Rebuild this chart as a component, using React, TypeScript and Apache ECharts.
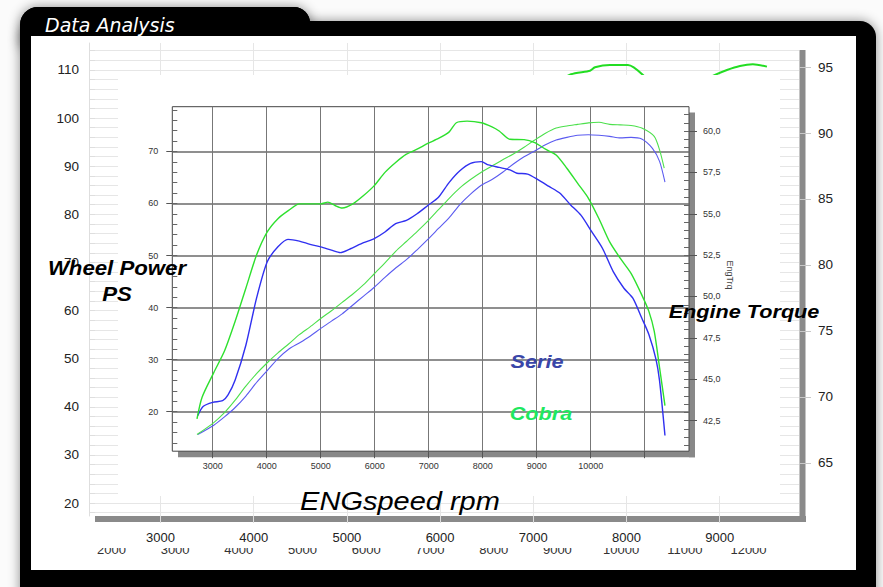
import React, { useEffect, useRef } from 'react';
import * as echarts from 'echarts';

// ---------- inner chart data (rpm / value) ----------
const cobraTorqueRpm = [2709, 2802, 3020, 3218, 3416, 3614, 3812, 4010, 4208, 4406, 4604, 4803, 5001, 5133, 5265, 5398, 5596, 5794, 5992, 6190, 6388, 6587, 6785, 6983, 7181, 7380, 7512, 7710, 7974, 8172, 8305, 8503, 8766, 8964, 9162, 9360, 9558, 9756, 9955, 10153, 10351, 10549, 10747, 10945, 11077, 11176, 11275, 11375];
const cobraTorque = [42.6, 43.9, 45.4, 46.7, 48.5, 50.5, 52.5, 53.9, 54.7, 55.2, 55.6, 55.6, 55.6, 55.7, 55.5, 55.35, 55.6, 56.1, 56.7, 57.5, 58.1, 58.6, 58.9, 59.25, 59.55, 59.95, 60.5, 60.6, 60.5, 60.25, 60.0, 59.5, 59.48, 59.3, 58.9, 58.55, 57.75, 56.85, 55.95, 54.7, 53.3, 52.3, 51.4, 50.1, 49.1, 47.9, 45.7, 43.4];

const serieTorqueRpm = [2723, 2822, 3000, 3185, 3284, 3416, 3614, 3812, 4010, 4208, 4394, 4604, 4803, 5001, 5199, 5364, 5530, 5794, 5992, 6190, 6388, 6587, 6785, 6983, 7181, 7380, 7577, 7775, 7974, 8106, 8305, 8503, 8634, 8832, 9030, 9228, 9426, 9624, 9822, 10021, 10219, 10417, 10615, 10780, 10945, 11077, 11209, 11275, 11375];
const serieTorque = [42.8, 43.35, 43.6, 43.7, 44.05, 44.95, 47.05, 49.9, 52.1, 53.0, 53.45, 53.35, 53.15, 53.0, 52.8, 52.65, 52.85, 53.25, 53.5, 53.9, 54.4, 54.6, 55.0, 55.5, 56.0, 56.9, 57.6, 58.05, 58.15, 57.95, 57.8, 57.65, 57.45, 57.4, 57.05, 56.65, 56.25, 55.55, 54.9, 53.9, 52.9, 51.5, 50.5, 49.9, 48.7, 47.7, 46.2, 44.9, 41.6];

const cobraPowerRpm = [2709, 3020, 3218, 3416, 3614, 3812, 4010, 4208, 4406, 4604, 4803, 5001, 5199, 5398, 5596, 5794, 5992, 6190, 6388, 6587, 6785, 6983, 7181, 7380, 7577, 7775, 7974, 8172, 8370, 8568, 8766, 8964, 9162, 9360, 9558, 9756, 9955, 10153, 10351, 10549, 10747, 10945, 11176, 11275, 11361];
const cobraPower = [15.6, 17.9, 19.8, 22.2, 24.9, 27.3, 29.4, 31.3, 33.0, 34.8, 36.3, 37.9, 39.4, 41.0, 42.6, 44.4, 46.5, 48.6, 50.8, 52.7, 54.6, 56.6, 58.8, 61.0, 63.0, 64.6, 66.0, 67.2, 68.4, 69.5, 70.8, 72.2, 73.5, 74.5, 74.9, 75.2, 75.5, 75.6, 75.2, 75.1, 75.0, 74.5, 72.9, 70.3, 66.8];

const seriePowerRpm = [2723, 3020, 3218, 3416, 3614, 3812, 4010, 4208, 4406, 4604, 4803, 5001, 5199, 5398, 5596, 5794, 5992, 6190, 6388, 6587, 6785, 6983, 7181, 7380, 7577, 7775, 7974, 8172, 8370, 8568, 8766, 8964, 9162, 9360, 9558, 9756, 9955, 10153, 10351, 10549, 10747, 10945, 11143, 11275, 11375];
const seriePower = [15.6, 17.4, 19.0, 20.8, 23.0, 25.6, 27.9, 30.2, 32.0, 33.2, 34.5, 36.0, 37.4, 38.8, 40.5, 42.2, 43.9, 45.8, 47.6, 49.2, 51.1, 53.1, 55.2, 57.3, 59.8, 61.8, 63.5, 64.6, 66.0, 67.6, 69.0, 70.1, 71.3, 72.2, 72.7, 73.1, 73.2, 73.1, 72.9, 72.6, 72.7, 72.4, 70.6, 68.1, 64.1];

// ---------- outer (background) chart fragments ----------
const outerTorqueRpm = [7200, 7405, 7609, 7662, 7823, 8016, 8177, 8400];
const outerTorque = [93.6, 94.45, 94.72, 94.98, 95.15, 95.15, 94.39, 92.6];
const outerPowerRpm = [8800, 8949, 9078, 9217, 9356, 9507];
const outerPower = [107.5, 108.96, 110.0, 110.83, 111.18, 110.69];

// ---------- tick labels ----------
const innerRpmLabels = [3000, 4000, 5000, 6000, 7000, 8000, 9000, 10000];
const innerRpmTicks = [3000, 4000, 5000, 6000, 7000, 8000, 9000, 10000, 11000];
const innerPowerLabels = [20, 30, 40, 50, 60, 70];
const innerTorqueLabels = [42.5, 45, 47.5, 50, 52.5, 55, 57.5, 60];
const outerRpmLabels = [3000, 4000, 5000, 6000, 7000, 8000, 9000];
const backRpmLabels = [2000, 3000, 4000, 5000, 6000, 7000, 8000, 9000, 10000, 11000, 12000];
const outerPowerLabels = [20, 30, 40, 50, 60, 70, 80, 90, 100, 110];
const outerTorqueLabels = [65, 70, 75, 80, 85, 90, 95];

const range = (a: number, b: number, s: number) => {
  const r: number[] = [];
  for (let v = a; v <= b + 1e-9; v += s) r.push(Math.round(v * 100) / 100);
  return r;
};
const innerPowerMinor = range(14, 78, 2);
const innerTorqueMinor = range(41, 61, 0.5);
const outerPowerMinor = range(18, 114, 2);

const zip = (xs: number[], ys: number[]) => xs.map((x, i) => [x, ys[i]]);
const plain = (v: number) => String(v);

const FONT = '"Liberation Sans", Arial, sans-serif';

function bigText(text: string, x: number, y: number, size: number, fill: string, weight: string, scaleX: number) {
  return {
    type: 'text',
    x,
    y,
    z: 10,
    scaleX,
    silent: true,
    style: {
      text,
      fill,
      fontSize: size,
      fontWeight: weight,
      fontStyle: 'italic',
      fontFamily: FONT,
      textAlign: 'center',
      textVerticalAlign: 'middle',
    },
  };
}

export default function App() {
  const ref = useRef<HTMLDivElement>(null);
  useEffect(() => {
    const chart = echarts.init(ref.current!, null, { renderer: 'svg' });
    const lineBase = { type: 'line', showSymbol: false, symbol: 'none', smooth: 0.25, silent: true };
    const option: any = {
      animation: false,
      backgroundColor: '#fbfbfb',
      textStyle: { fontFamily: FONT },
      grid: [
        { left: 172.3, top: 106.7, width: 516.7, height: 344.5, show: true, borderColor: '#444', borderWidth: 1, backgroundColor: 'transparent', z: 6 },
        { left: 89, top: 43, width: 710, height: 473, z: 3 },
        { left: 111.4, top: 530, width: 637.1, height: 1, z: 1 },
      ],
      xAxis: [
        {
          gridIndex: 0, type: 'value', min: 2252, max: 11820, splitNumber: 48, z: 6,
          axisLine: { show: false },
          axisTick: { show: true, customValues: innerRpmTicks, length: 7, lineStyle: { color: '#555' } },
          axisLabel: { customValues: innerRpmLabels, fontSize: 9, color: '#333', margin: 10, formatter: plain },
          splitLine: { show: true, lineStyle: { color: '#777', width: 1 } },
        },
        {
          gridIndex: 1, type: 'value', min: 2233, max: 9851, splitNumber: 38, z: 3,
          axisLine: { show: false },
          axisTick: { show: true, customValues: outerRpmLabels, length: 7, lineStyle: { color: '#dcdcdc' } },
          axisLabel: { customValues: outerRpmLabels, fontSize: 13, color: '#222', margin: 15, formatter: plain },
          splitLine: { show: true, lineStyle: { color: '#e6e6e6', width: 1 } },
        },
        {
          gridIndex: 2, type: 'value', min: 2000, max: 12000, splitNumber: 10, z: 1,
          axisLine: { show: false }, axisTick: { show: false }, splitLine: { show: false },
          axisLabel: { customValues: backRpmLabels, fontSize: 13, color: '#333', margin: 12, formatter: plain },
        },
      ],
      yAxis: [
        {
          gridIndex: 0, type: 'value', position: 'left', min: 12.4, max: 78.6, splitNumber: 7, z: 6,
          axisLine: { show: false },
          axisTick: { show: true, customValues: innerPowerLabels, length: 6, lineStyle: { color: '#555' } },
          axisLabel: { customValues: innerPowerLabels, fontSize: 9, color: '#333', margin: 14, formatter: plain },
          splitLine: { show: true, lineStyle: { color: '#6a6a6a', width: 1.5 } },
        },
        {
          gridIndex: 0, type: 'value', position: 'left', min: 12.4, max: 78.6, z: 6,
          axisLine: { show: false },
          axisTick: { show: true, inside: true, customValues: innerPowerMinor, length: 5, lineStyle: { color: '#666' } },
          axisLabel: { show: false }, splitLine: { show: false },
        },
        {
          gridIndex: 0, type: 'value', position: 'right', min: 40.65, max: 61.47, z: 6,
          axisLine: { show: false },
          axisTick: { show: true, customValues: innerTorqueLabels, length: 8, lineStyle: { color: '#555' } },
          axisLabel: {
            customValues: innerTorqueLabels, fontSize: 9, color: '#333', margin: 14,
            formatter: (v: number) => v.toFixed(1).replace('.', ','),
          },
          splitLine: { show: false },
        },
        {
          gridIndex: 0, type: 'value', position: 'right', min: 40.65, max: 61.47, z: 6,
          axisLine: { show: false },
          axisTick: { show: true, inside: true, customValues: innerTorqueMinor, length: 5, lineStyle: { color: '#666' } },
          axisLabel: { show: false }, splitLine: { show: false },
        },
        {
          gridIndex: 1, type: 'value', position: 'left', min: 17.3, max: 115.6, splitNumber: 10, z: 3,
          axisLine: { show: true, lineStyle: { color: '#dedede' } },
          axisTick: { show: true, inside: true, customValues: outerPowerMinor, length: 6, lineStyle: { color: '#dedede' } },
          axisLabel: { customValues: outerPowerLabels, fontSize: 13.5, color: '#222', margin: 10, formatter: plain },
          splitLine: { show: true, lineStyle: { color: '#e6e6e6', width: 1 } },
        },
        {
          gridIndex: 1, type: 'value', position: 'right', min: 60.98, max: 96.82, z: 3,
          axisLine: { show: false },
          axisTick: { show: true, customValues: outerTorqueLabels, length: 12, lineStyle: { color: '#c8c8c8' } },
          axisLabel: { customValues: outerTorqueLabels, fontSize: 13.5, color: '#222', margin: 19, formatter: plain },
          splitLine: { show: false },
        },
        { gridIndex: 2, type: 'value', show: false, min: 0, max: 1 },
      ],
      series: [
        { ...lineBase, name: 'outerTorque', xAxisIndex: 1, yAxisIndex: 5, z: 4, data: zip(outerTorqueRpm, outerTorque), lineStyle: { color: '#22dd22', width: 2 } },
        { ...lineBase, name: 'outerPower', xAxisIndex: 1, yAxisIndex: 4, z: 4, data: zip(outerPowerRpm, outerPower), lineStyle: { color: '#22dd22', width: 2 } },
        { ...lineBase, name: 'Serie PS', xAxisIndex: 0, yAxisIndex: 0, z: 7, data: zip(seriePowerRpm, seriePower), lineStyle: { color: '#5b5bf0', width: 1.1 } },
        { ...lineBase, name: 'Cobra PS', xAxisIndex: 0, yAxisIndex: 0, z: 7, data: zip(cobraPowerRpm, cobraPower), lineStyle: { color: '#4ce04c', width: 1.1 } },
        { ...lineBase, name: 'Serie EngTrq', xAxisIndex: 0, yAxisIndex: 2, z: 7, data: zip(serieTorqueRpm, serieTorque), lineStyle: { color: '#3030f0', width: 1.4 } },
        { ...lineBase, name: 'Cobra EngTrq', xAxisIndex: 0, yAxisIndex: 2, z: 7, data: zip(cobraTorqueRpm, cobraTorque), lineStyle: { color: '#2ee02e', width: 1.4 } },
      ],
      graphic: [
        { type: 'rect', z: 0, silent: true, shape: { x: 20, y: 7, width: 290, height: 40, r: [18, 16, 0, 0] }, style: { fill: '#000', shadowBlur: 12, shadowColor: 'rgba(0,0,0,0.45)' } },
        { type: 'rect', z: 0, silent: true, shape: { x: 20, y: 21, width: 856, height: 600, r: 16 }, style: { fill: '#000', shadowBlur: 12, shadowColor: 'rgba(0,0,0,0.45)' } },
        { type: 'rect', z: 0, silent: true, shape: { x: 20, y: 7, width: 290, height: 40, r: [18, 16, 0, 0] }, style: { fill: '#000' } },
        { type: 'rect', z: 0, silent: true, shape: { x: 31, y: 36, width: 825, height: 534 }, style: { fill: '#fff' } },
        { type: 'text', z: 10, x: 45, y: 25, silent: true, style: { text: 'Data Analysis', fill: '#fff', fontSize: 19, fontStyle: 'italic', fontFamily: '"DejaVu Sans", sans-serif', textAlign: 'left', textVerticalAlign: 'middle' } },
        // cover for the clipped third row of labels
        { type: 'rect', z: 2, silent: true, shape: { x: 90, y: 538, width: 715, height: 10 }, style: { fill: '#fff' } },
        // outer shadow bars
        { type: 'rect', z: 2, silent: true, shape: { x: 95, y: 516, width: 711, height: 6 }, style: { fill: '#8a8a8a' } },
        { type: 'rect', z: 2, silent: true, shape: { x: 799.5, y: 50, width: 6, height: 472 }, style: { fill: '#8a8a8a' } },
        // inner white panel
        { type: 'rect', z: 5, silent: true, shape: { x: 118, y: 75, width: 662, height: 421 }, style: { fill: '#fff' } },
        // inner shadow bars
        { type: 'rect', z: 5, silent: true, shape: { x: 178, y: 451.2, width: 517, height: 6 }, style: { fill: '#888' } },
        { type: 'rect', z: 5, silent: true, shape: { x: 689, y: 112.5, width: 6, height: 344.7 }, style: { fill: '#888' } },
        { type: 'text', z: 10, x: 730, y: 275, rotation: -Math.PI / 2, silent: true, style: { text: 'EngTrq', fill: '#444', fontSize: 9, fontFamily: FONT, textAlign: 'center', textVerticalAlign: 'middle' } },
        bigText('Wheel Power', 117, 268, 19.5, '#000', 'bold', 1.14),
        bigText('PS', 117, 294, 19.5, '#000', 'bold', 1.14),
        bigText('Engine Torque', 744, 311, 19, '#000', 'bold', 1.14),
        bigText('ENGspeed rpm', 400, 501, 25, '#000', 'normal', 1.16),
        bigText('Serie', 537, 361, 19, '#3a46a8', 'bold', 1.14),
        bigText('Cobra', 541, 413, 19, '#1ee860', 'bold', 1.14),
      ],
    };
    chart.setOption(option);
    return () => chart.dispose();
  }, []);
  return <div ref={ref} style={{ position: 'fixed', left: 0, top: 0, width: 883, height: 587 }} />;
}
